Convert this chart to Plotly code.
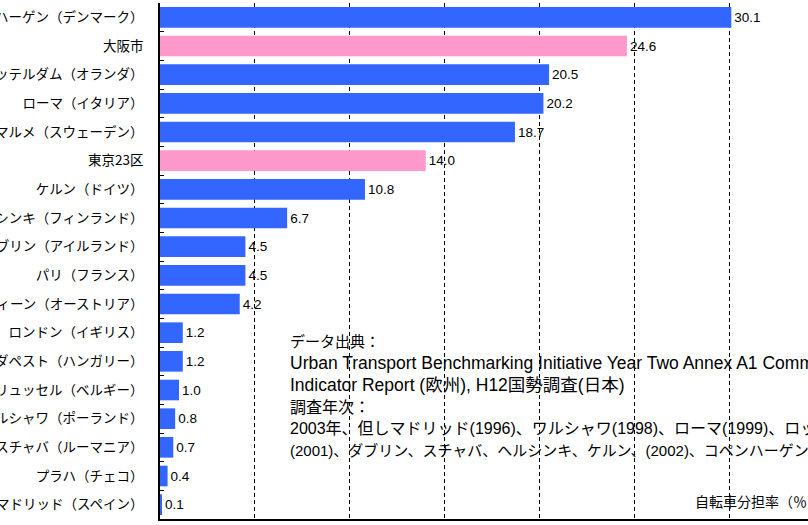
import plotly.graph_objects as go

categories = [
    "コペンハーゲン（デンマーク）",
    "大阪市",
    "ロッテルダム（オランダ）",
    "ローマ（イタリア）",
    "マルメ（スウェーデン）",
    "東京23区",
    "ケルン（ドイツ）",
    "ヘルシンキ（フィンランド）",
    "ダブリン（アイルランド）",
    "パリ（フランス）",
    "ウィーン（オーストリア）",
    "ロンドン（イギリス）",
    "ブダペスト（ハンガリー）",
    "ブリュッセル（ベルギー）",
    "ワルシャワ（ポーランド）",
    "スチャバ（ルーマニア）",
    "プラハ（チェコ）",
    "マドリッド（スペイン）",
]
values = [30.1, 24.6, 20.5, 20.2, 18.7, 14.0, 10.8, 6.7, 4.5, 4.5, 4.2,
          1.2, 1.2, 1.0, 0.8, 0.7, 0.4, 0.1]
japan_cities = ["大阪市", "東京23区"]

note_lines = [
    "データ出典：",
    "Urban Transport Benchmarking Initiative Year Two Annex A1 Common",
    "Indicator Report (欧州), H12国勢調査(日本)",
    "調査年次：",
    "2003年、但しマドリッド(1996)、ワルシャワ(1998)、ローマ(1999)、ロッテルダム",
    "(2001)、ダブリン、スチャバ、ヘルシンキ、ケルン、(2002)、コペンハーゲン(2004)",
]
axis_title = "自転車分担率（％）"

BLUE = "#3366FF"
PINK = "#FF99CC"
colors = [PINK if c in japan_cities else BLUE for c in categories]

W, H = 808, 525
L, R, T, B = 160, 0, 3, 6
plot_w = W - L - R
plot_h = H - T - B

fig = go.Figure(go.Bar(
    x=values, y=categories, orientation="h",
    marker=dict(color=colors, line=dict(width=0)),
    text=[f"{v:.1f}" for v in values],
    textposition="outside",
    textfont=dict(size=13.5, color="black", family="Liberation Sans, Arial, sans-serif"),
    cliponaxis=False,
    width=0.72,
    hoverinfo="skip",
))

fig.update_layout(
    width=W, height=H,
    margin=dict(l=L, r=R, t=T, b=B, pad=0, autoexpand=False),
    paper_bgcolor="white", plot_bgcolor="white",
    showlegend=False,
    font=dict(family="Liberation Sans, Noto Sans CJK JP, sans-serif", color="black"),
)
fig.update_xaxes(
    range=[0, 34.14], dtick=5, tick0=0,
    showticklabels=False, ticks="",
    showgrid=True, gridcolor="black", gridwidth=1, griddash="4px,3px",
    zeroline=False,
    showline=True, linecolor="black", linewidth=1.5,
    automargin=False,
)
fig.update_yaxes(
    autorange="reversed",
    tickson="boundaries", ticks="inside", ticklen=4, tickcolor="black", tickwidth=1,
    showline=True, linecolor="black", linewidth=1.5,
    showgrid=False,
    tickfont=dict(size=13.5, family="Noto Sans CJK JP, sans-serif", color="black"),
    ticklabelstandoff=12,
    automargin=False,
)

def px_x(px):
    return (px - L) / plot_w

def px_y(py):
    return (H - B - py) / plot_h

line_y = [341, 363, 385, 407, 428, 450]
line_size = [15, 17.5, 17.5, 16, 16, 15]
for txt, yy, sz in zip(note_lines, line_y, line_size):
    fig.add_annotation(
        text=txt, x=px_x(288), y=px_y(yy), xref="paper", yref="paper",
        xanchor="left", yanchor="middle", showarrow=False,
        font=dict(size=sz, family="Liberation Sans, Noto Sans CJK JP, sans-serif", color="black"),
    )

fig.add_annotation(
    text=axis_title, x=px_x(693), y=px_y(501), xref="paper", yref="paper",
    xanchor="left", yanchor="middle", showarrow=False,
    font=dict(size=14, family="Noto Sans CJK JP, sans-serif", color="black"),
)

fig.write_html(
    "out.html",
    config={"displayModeBar": False},
    post_script="document.body.style.margin='0';document.body.style.overflow='hidden';",
)
